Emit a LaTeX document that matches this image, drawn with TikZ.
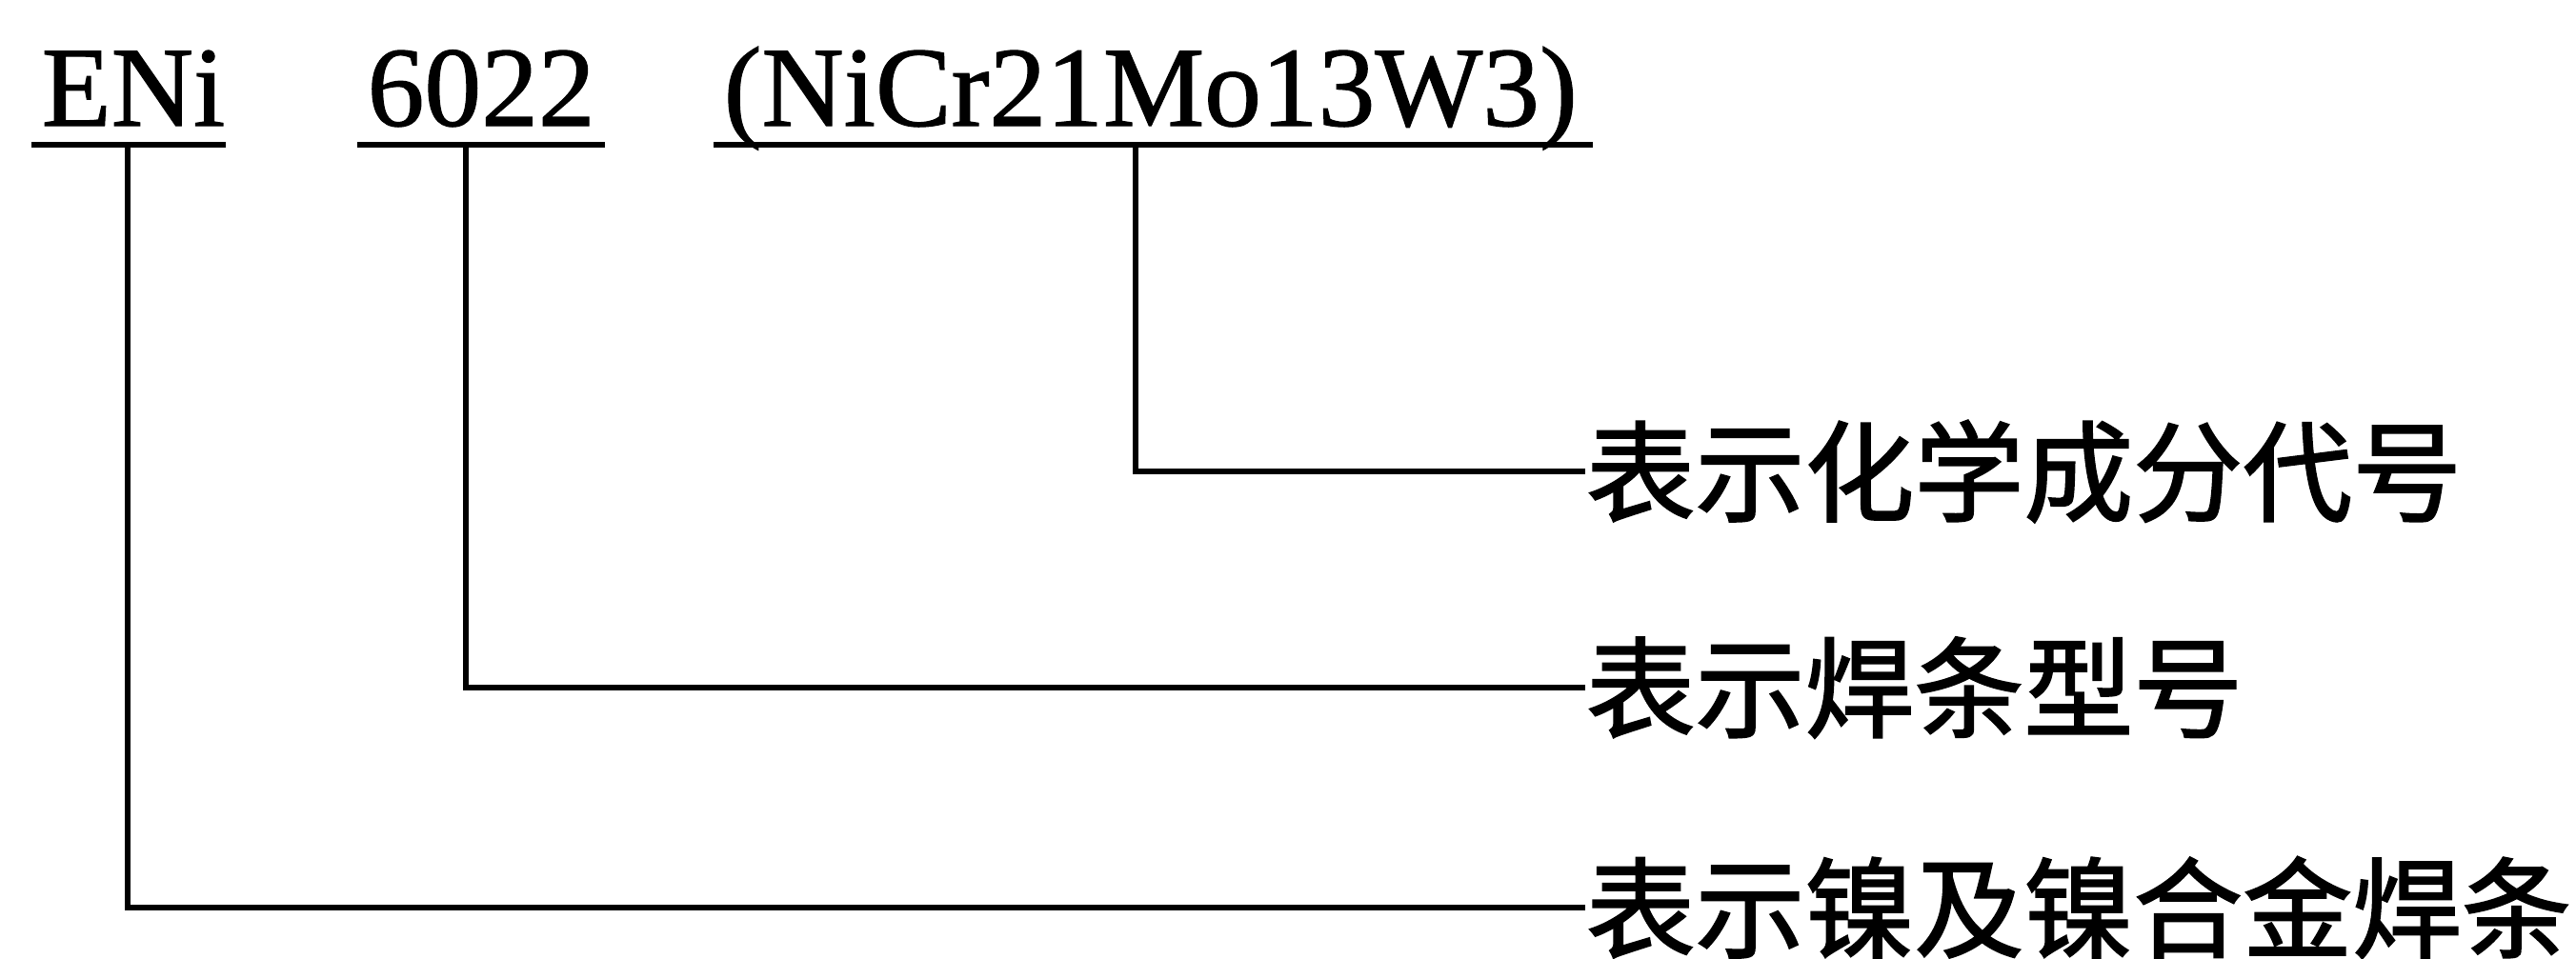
\documentclass[tikz,border=0pt]{standalone}
\usepackage{fontspec}
\setmainfont{Liberation Serif}
\newfontfamily\codefont[FakeBold=1]{Liberation Serif}
\newfontfamily\cjk[FakeBold=1.6]{Noto Sans CJK SC}
\usepackage{tikz}

\begin{document}
\begin{tikzpicture}[code/.style={anchor=base west, inner sep=0pt, font=\codefont\fontsize{34}{40}\selectfont},
  desc/.style={anchor=west, inner sep=0pt, font=\cjk\fontsize{32.7}{38}\selectfont},
  uline/.style={line width=1.8pt},
  conn/.style={line width=1.6pt}]
\useasboundingbox (0,0) rectangle (27.04,10.06);
% the code and its three parts
\node[code] (eni) at (0.43,8.74) {ENi};
\node[code] (num) at (3.85,8.74) {6022};
\node[code] (chem) at (7.59,8.74) {(NiCr21Mo13W3)};
\draw[uline] ([shift={(-0.1,-0.2)}]eni.base west) -- ([yshift=-0.2cm]eni.base east);
\draw[uline] ([shift={(-0.1,-0.2)}]num.base west) -- ([shift={(0.1,-0.2)}]num.base east);
\draw[uline] ([shift={(-0.1,-0.2)}]chem.base west) -- ([shift={(0.15,-0.2)}]chem.base east);
% meanings
\node[desc] (dchem) at (16.64,5.11) {表示化学成分代号};
\node[desc] (dnum) at (16.64,2.84) {表示焊条型号};
\node[desc] (deni) at (16.64,0.53) {表示镍及镍合金焊条};
\coordinate (eniU) at ([shift={(-0.06,-0.2)}]eni.base);
\coordinate (numU) at ([shift={(-0.16,-0.2)}]num.base);
\coordinate (chemU) at ([shift={(-0.16,-0.2)}]chem.base);
\draw[conn] (chemU) |- (dchem.west);
\draw[conn] (numU) |- (dnum.west);
\draw[conn] (eniU) |- (deni.west);
\end{tikzpicture}
\end{document}
